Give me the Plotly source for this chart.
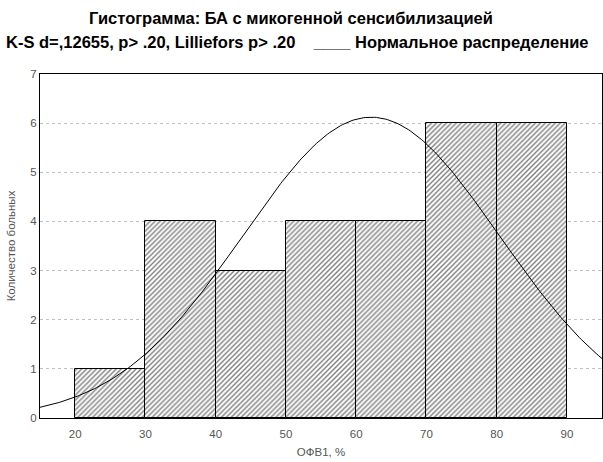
import numpy as np
import plotly.graph_objects as go

# Histogram bins of FEV1 (%) and patient counts
bin_left = [20, 30, 40, 50, 60, 70, 80]
bin_width = 10
counts = [1, 4, 3, 4, 4, 6, 6]

# Fitted normal distribution parameters
fit_mean = 62.14
fit_sd = 18.25

x_ticks = [20, 30, 40, 50, 60, 70, 80, 90]
y_ticks = [0, 1, 2, 3, 4, 5, 6, 7]

n_total = sum(counts)
centers = [b + bin_width / 2 for b in bin_left]

xs = np.linspace(15, 95, 300)
ys = n_total * bin_width / (fit_sd * np.sqrt(2 * np.pi)) * np.exp(-0.5 * ((xs - fit_mean) / fit_sd) ** 2)

fig = go.Figure()
fig.add_trace(go.Bar(
    x=centers, y=counts, width=bin_width,
    marker=dict(
        color="white",
        line=dict(color="black", width=1),
        pattern=dict(shape="/", fgcolor="black", bgcolor="white", size=3.5, solidity=0.4),
    ),
    hoverinfo="x+y",
))
fig.add_trace(go.Scatter(
    x=xs, y=ys, mode="lines",
    line=dict(color="black", width=1),
    hoverinfo="skip",
))

title_font = dict(family="Liberation Sans, Arial", size=16.5, color="black")
nb = "\u00a0"
fig.add_annotation(
    text="<b>Гистограмма: БА с микогенной сенсибилизацией</b>",
    xref="paper", yref="paper", x=(291 - 40) / 562, y=1.0, yshift=56,
    showarrow=False, font=title_font, xanchor="center", yanchor="middle",
)
fig.add_annotation(
    text="<b>K-S d=,12655, p> .20, Lilliefors p> .20" + nb * 4 + "____ Нормальное распределение</b>",
    xref="paper", yref="paper", x=(297 - 40) / 562, y=1.0, yshift=32,
    showarrow=False, font=title_font, xanchor="center", yanchor="middle",
)

axis_font = dict(family="Arial, Liberation Sans", size=11.5, color="#555555")
fig.update_layout(
    width=603, height=462,
    margin=dict(l=40, r=1, t=74, b=44),
    paper_bgcolor="white", plot_bgcolor="white",
    showlegend=False, bargap=0,
    font=axis_font,
    xaxis=dict(
        range=[15, 95], tickvals=x_ticks, showgrid=False, zeroline=False,
        showline=True, linecolor="black", linewidth=1, mirror=True,
        ticks="", tickfont=axis_font, ticklabelstandoff=5,
        title=dict(text="ОФВ1, %", font=axis_font, standoff=9),
    ),
    yaxis=dict(
        range=[0, 7], tickvals=y_ticks, showgrid=True, gridcolor="#c0c0c0",
        griddash="dot", gridwidth=1, zeroline=False,
        showline=True, linecolor="black", linewidth=1, mirror=True,
        ticks="", tickfont=axis_font,
        title=dict(text="Количество больных", font=axis_font, standoff=12),
    ),
)

fig.write_html("out.html")
